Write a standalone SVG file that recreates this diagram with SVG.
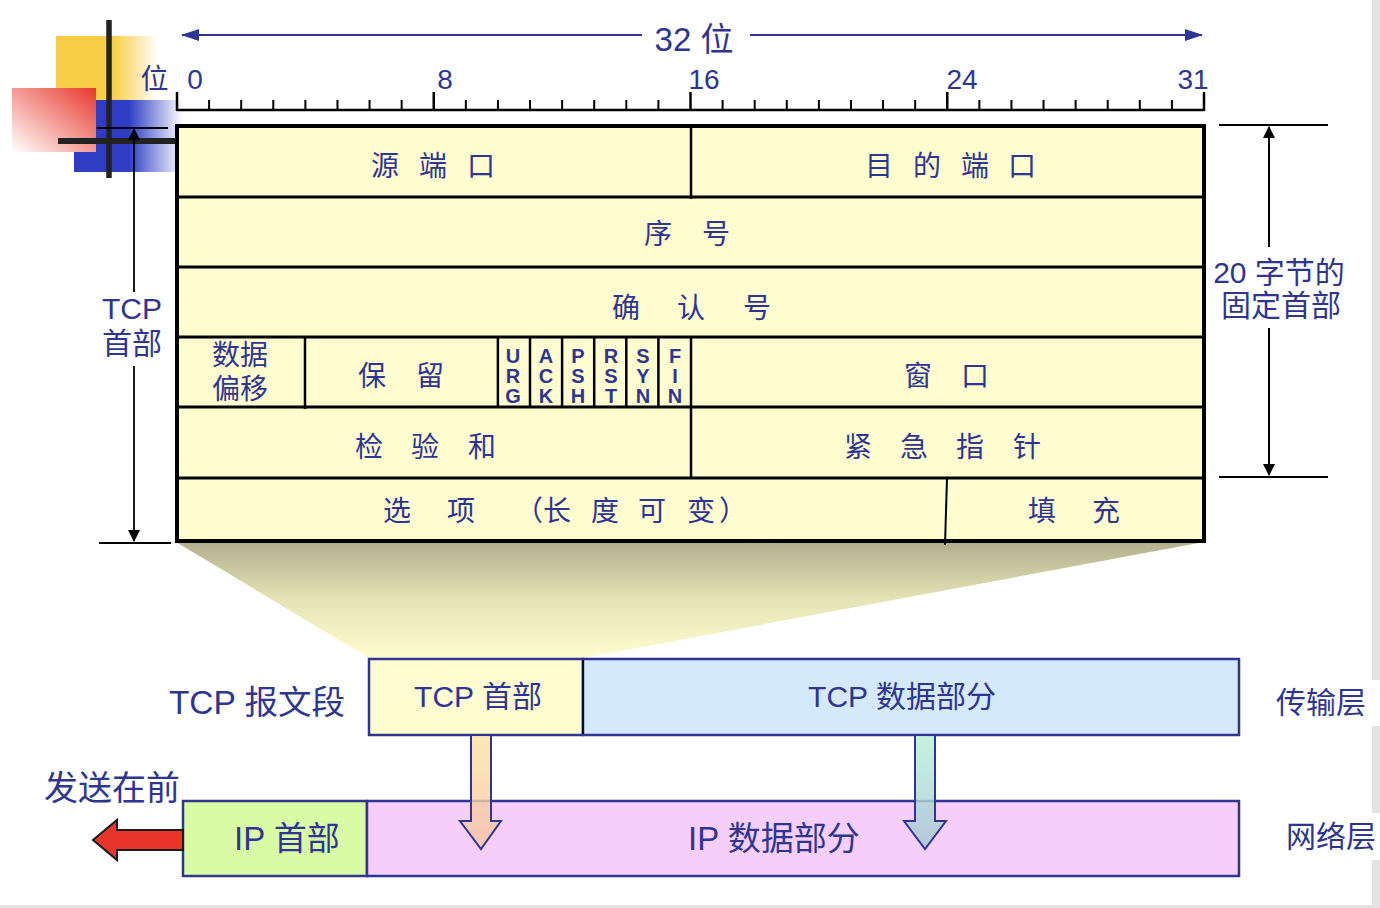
<svg xmlns="http://www.w3.org/2000/svg" width="1380" height="908" viewBox="0 0 1380 908">
<style>
.t{font-family:"Liberation Sans","Noto Sans CJK SC",sans-serif;fill:#2E3592;}
.c{text-anchor:middle;}
.cell{font-size:28px;}
.flag{font-size:20px;font-weight:bold;text-anchor:middle;}
.ln{stroke:#000;fill:none;}
.box{stroke:#2E3592;stroke-width:2.5;}
.darr{stroke:#2E3592;stroke-width:2;}
</style>
<defs>
<linearGradient id="gYel" x1="0" y1="0" x2="1" y2="0">
<stop offset="0" stop-color="#F7CE46"/><stop offset="0.56" stop-color="#F7CE46"/><stop offset="1" stop-color="#F7CE46" stop-opacity="0"/>
</linearGradient>
<linearGradient id="gBlue" x1="0" y1="0" x2="1" y2="0">
<stop offset="0" stop-color="#2E3DC4"/><stop offset="0.5" stop-color="#2E3DC4"/><stop offset="1" stop-color="#2E3DC4" stop-opacity="0"/>
</linearGradient>
<linearGradient id="gRed" x1="1" y1="0" x2="0" y2="1">
<stop offset="0" stop-color="#E8382A"/><stop offset="1" stop-color="#FFFFFF"/>
</linearGradient>
<linearGradient id="gTrap" x1="0" y1="0" x2="0" y2="1">
<stop offset="0" stop-color="#B3AF8E"/><stop offset="0.5" stop-color="#E6E3B6"/><stop offset="1" stop-color="#FFFCD0"/>
</linearGradient>
<linearGradient id="gOr" x1="0" y1="0" x2="0" y2="1">
<stop offset="0" stop-color="#FCE3A0"/><stop offset="1" stop-color="#F6C2A4"/>
</linearGradient>
<linearGradient id="gGr" x1="0" y1="0" x2="0" y2="1">
<stop offset="0" stop-color="#B7F0D6"/><stop offset="1" stop-color="#A6C6D2"/>
</linearGradient>
<marker id="ah" viewBox="0 0 12 12" refX="11" refY="6" markerWidth="12" markerHeight="12" markerUnits="userSpaceOnUse" orient="auto-start-reverse">
<path d="M0,0 L12,6 L0,12 z" fill="#000"/>
</marker>
<marker id="ahb" viewBox="0 0 18 12" refX="17" refY="6" markerWidth="18" markerHeight="12" markerUnits="userSpaceOnUse" orient="auto-start-reverse">
<path d="M0,0 L18,6 L0,12 z" fill="#2E3592"/>
</marker>
</defs>
<rect width="1380" height="908" fill="#FFFFFF"/>
<!-- page edge -->
<rect x="1372" y="0" width="8" height="905" fill="#E3E3E3"/>
<rect x="0" y="905" width="1380" height="3" fill="#E3E3E3"/>

<!-- decoration -->
<g id="decoration">
<rect x="56" y="36" width="102" height="64" fill="url(#gYel)"/>
<rect x="74" y="100" width="109" height="72" fill="url(#gBlue)"/>
<rect x="12" y="88" width="84" height="64" fill="url(#gRed)"/>
<line x1="109" y1="20" x2="109" y2="178" stroke="#222" stroke-width="5.5"/>
<line x1="58" y1="141" x2="176" y2="141" stroke="#222" stroke-width="6"/>
</g>

<!-- gradient wedge -->
<polygon id="wedge" points="176,542 1204,542 583,658 369,658" fill="url(#gTrap)"/>

<!-- 32 bit label -->
<g id="width-label">
<line x1="182" y1="35" x2="642" y2="35" stroke="#2E3592" stroke-width="2" marker-start="url(#ahb)"/>
<line x1="750" y1="35" x2="1202" y2="35" stroke="#2E3592" stroke-width="2" marker-end="url(#ahb)"/>
<text class="t c" x="694" y="51" font-size="33">32 位</text>
</g>

<!-- ruler -->
<g id="ruler">
<path class="ln" stroke-width="2.5" d="M177,110 H1204"/>
<path class="ln" stroke-width="2.5" d="M177,92 V111 M433.75,92 V111 M690.5,92 V111 M947.25,92 V111 M1204,92 V111"/>
<path class="ln" stroke-width="2" d="M209.09,100 V110 M241.19,100 V110 M273.28,100 V110 M305.38,100 V110 M337.47,100 V110 M369.56,100 V110 M401.66,100 V110 M465.84,100 V110 M497.94,100 V110 M530.03,100 V110 M562.13,100 V110 M594.22,100 V110 M626.31,100 V110 M658.41,100 V110 M722.59,100 V110 M754.69,100 V110 M786.78,100 V110 M818.88,100 V110 M850.97,100 V110 M883.06,100 V110 M915.16,100 V110 M979.34,100 V110 M1011.44,100 V110 M1043.53,100 V110 M1075.63,100 V110 M1107.72,100 V110 M1139.81,100 V110 M1171.91,100 V110"/>
<text class="t c" x="154.5" y="88.5" font-size="28">位</text>
<text class="t c" x="195" y="89" font-size="28">0</text>
<text class="t c" x="445" y="89" font-size="28">8</text>
<text class="t c" x="704" y="89" font-size="28">16</text>
<text class="t c" x="962" y="89" font-size="28">24</text>
<text class="t c" x="1193" y="89" font-size="28">31</text>
</g>

<!-- TCP header table -->
<g id="tcp-header-table">
<rect x="177" y="126" width="1027" height="415" fill="#FFFCD0" stroke="#000" stroke-width="4"/>
<path class="ln" stroke-width="3" d="M177,197 H1204 M177,267 H1204 M177,337 H1204 M177,407 H1204 M177,478 H1204"/>
<path class="ln" stroke-width="2.5" d="M691,126 V199 M305,337 V409 M497.9,337 V407 M530,337 V407 M562.1,337 V407 M594.2,337 V407 M626.3,337 V407 M658.4,337 V407 M691,337 V478"/>
<path class="ln" stroke-width="2" d="M947,478 L945,545"/>
</g>
<g id="row1">
<text class="t cell c" x="385 433 481" y="176">源端口</text>
<text class="t cell c" x="879 927 975 1022" y="176">目的端口</text>
</g>
<g id="row2"><text class="t cell c" x="658 716" y="244">序号</text></g>
<g id="row3"><text class="t cell c" x="626 691 757" y="318">确认号</text></g>
<g id="row4">
<text class="t cell c" x="240" y="365">数据</text>
<text class="t cell c" x="240" y="399">偏移</text>
<text class="t cell c" x="372 430" y="386">保留</text>
<text class="t flag"><tspan x="513" y="363">U</tspan><tspan x="513" y="383">R</tspan><tspan x="513" y="403">G</tspan></text>
<text class="t flag"><tspan x="546" y="363">A</tspan><tspan x="546" y="383">C</tspan><tspan x="546" y="403">K</tspan></text>
<text class="t flag"><tspan x="578" y="363">P</tspan><tspan x="578" y="383">S</tspan><tspan x="578" y="403">H</tspan></text>
<text class="t flag"><tspan x="611" y="363">R</tspan><tspan x="611" y="383">S</tspan><tspan x="611" y="403">T</tspan></text>
<text class="t flag"><tspan x="643" y="363">S</tspan><tspan x="643" y="383">Y</tspan><tspan x="643" y="403">N</tspan></text>
<text class="t flag"><tspan x="675" y="363">F</tspan><tspan x="675" y="383">I</tspan><tspan x="675" y="403">N</tspan></text>
<text class="t cell c" x="918 975" y="386">窗口</text>
</g>
<g id="row5">
<text class="t cell c" x="369 425 482" y="457">检验和</text>
<text class="t cell c" x="858 914 970 1027" y="457">紧急指针</text>
</g>
<g id="row6">
<text class="t cell c" x="397 461 529 557 605 652 701 733" y="521">选项（长度可变）</text>
<text class="t cell c" x="1042 1106" y="521">填充</text>
</g>

<!-- dimension connectors -->
<g id="connectors">
<line x1="97" y1="128" x2="168" y2="128" stroke="#000" stroke-width="1.8"/>
<line x1="99" y1="543" x2="171" y2="543" stroke="#000" stroke-width="2"/>
<line x1="134" y1="292" x2="134" y2="129" stroke="#000" stroke-width="1.8" marker-end="url(#ah)"/>
<line x1="134" y1="366" x2="134" y2="541" stroke="#000" stroke-width="1.8" marker-end="url(#ah)"/>
<line x1="1219" y1="125" x2="1328" y2="125" stroke="#000" stroke-width="2"/>
<line x1="1219" y1="477" x2="1328" y2="477" stroke="#000" stroke-width="2"/>
<line x1="1269" y1="247" x2="1269" y2="127" stroke="#000" stroke-width="2" marker-end="url(#ah)"/>
<line x1="1269" y1="328" x2="1269" y2="475" stroke="#000" stroke-width="2" marker-end="url(#ah)"/>
</g>
<g id="label-tcp-header">
<text class="t c" x="132" y="319" font-size="30">TCP</text>
<text class="t c" x="132" y="354" font-size="30">首部</text>
</g>
<g id="label-20bytes">
<text class="t c" x="1279" y="283" font-size="30">20 字节的</text>
<text class="t c" x="1281" y="316" font-size="30">固定首部</text>
</g>

<!-- TCP segment -->
<g id="tcp-segment">
<text class="t c" x="257" y="714" font-size="33.5">TCP 报文段</text>
<rect class="box" x="369" y="659" width="214" height="76" fill="#FFFCD2"/>
<rect class="box" x="583" y="659" width="656" height="76" fill="#D4E9FB"/>
<line x1="583" y1="660" x2="583" y2="734" stroke="#000" stroke-width="1.5"/>
<text class="t c" x="478" y="707" font-size="30">TCP 首部</text>
<text class="t c" x="902" y="707" font-size="30">TCP 数据部分</text>
</g>

<!-- IP datagram -->
<g id="ip-datagram">
<rect class="box" x="183" y="801" width="184" height="75" fill="#DAFBA5"/>
<rect class="box" x="367" y="801" width="872" height="75" fill="#F5CFF9"/>
<text class="t c" x="287" y="850" font-size="33">IP 首部</text>
<text class="t c" x="774" y="850" font-size="33">IP 数据部分</text>
<text class="t c" x="112" y="800" font-size="34">发送在前</text>
</g>

<!-- layer labels -->
<g id="layer-labels">
<rect x="1266" y="680" width="114" height="46" fill="#FFFFFF"/>
<rect x="1280" y="813" width="100" height="47" fill="#FFFFFF"/>
<text class="t c" x="1321" y="713" font-size="30">传输层</text>
<text class="t c" x="1331" y="847" font-size="30">网络层</text>
</g>

<!-- arrows -->
<g id="arrows">
<polygon points="93,840 117,820 117,830 183,830 183,850 117,850 117,860" fill="#E8342A" stroke="#1A1A1A" stroke-width="2"/>
<polygon class="darr" points="471,735 491,735 491,821 501,821 481,849 460,821 471,821" fill="url(#gOr)" fill-opacity="0.8"/>
<polygon class="darr" points="915,735 935,735 935,821 946,821 925,849 904,821 915,821" fill="url(#gGr)" fill-opacity="0.8"/>
</g>
</svg>
